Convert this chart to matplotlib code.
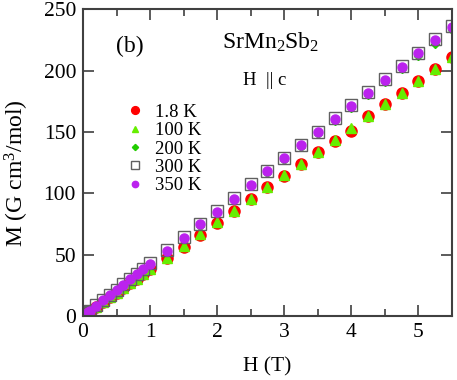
import numpy as np
import matplotlib
matplotlib.use('Agg')
import matplotlib.pyplot as plt
from matplotlib.ticker import MultipleLocator

plt.rcParams['font.family'] = ['Liberation Serif', 'DejaVu Serif']
plt.rcParams['mathtext.fontset'] = 'custom'
plt.rcParams['mathtext.rm'] = 'Liberation Serif'
plt.rcParams['mathtext.it'] = 'Liberation Serif:italic'

# field (T)
H = [0, 0.01, 0.02, 0.03, 0.05, 0.07, 0.1, 0.2, 0.3, 0.4, 0.5, 0.6, 0.7, 0.8, 0.9, 1.0,
     1.25, 1.5, 1.75, 2.0, 2.25, 2.5, 2.75, 3.0, 3.25, 3.5, 3.75, 4.0,
     4.25, 4.5, 4.75, 5.0, 5.25, 5.5]

# magnetization (G cm^3/mol)
M_1p8K = [0, 0.4, 0.8, 1.1, 1.9, 2.7, 3.8, 7.6, 11.4, 15.2, 19.0, 22.8, 26.6, 30.4, 34.2, 38.0,
          47.2, 56.6, 66.2, 75.7, 85.6, 95.3, 104.8, 114.3, 123.8, 133.4, 143.0, 150.8,
          162.6, 172.4, 181.8, 191.4, 201.0, 210.8]
M_100K = [0, 0.4, 0.8, 1.1, 1.9, 2.7, 3.8, 7.7, 11.5, 15.3, 19.1, 22.9, 26.7, 30.5, 34.3, 38.2,
          47.6, 57.1, 66.7, 76.3, 85.9, 95.6, 105.1, 114.6, 124.1, 133.7, 143.3, 153.0,
          162.8, 172.6, 182.0, 191.7, 201.3, 211.0]
M_200K = [0, 0.4, 0.8, 1.3, 2.1, 3.0, 4.2, 8.5, 12.7, 16.9, 21.1, 25.3, 29.6, 33.8, 38.0, 42.0,
          52.5, 63.2, 73.7, 84.0, 94.6, 105.8, 116.5, 126.9, 137.6, 148.1, 158.6, 169.2,
          179.7, 190.3, 200.9, 211.5, 222.0, 232.6]
M_300K = [0, 0.4, 0.9, 1.3, 2.2, 3.0, 4.3, 8.7, 13.0, 17.3, 21.6, 25.9, 30.2, 34.5, 38.8, 43.0,
          53.6, 64.3, 75.0, 85.6, 96.3, 107.5, 118.3, 128.9, 139.6, 150.3, 161.0, 171.7,
          182.4, 193.1, 203.8, 214.6, 225.4, 236.0]
M_350K = [0, 0.4, 0.9, 1.3, 2.1, 3.0, 4.3, 8.6, 12.9, 17.1, 21.4, 25.7, 30.0, 34.2, 38.5, 42.5,
          53.2, 64.0, 74.7, 85.2, 95.8, 107.2, 118.0, 128.4, 139.1, 149.8, 160.5, 171.4,
          182.0, 192.6, 203.2, 214.2, 224.9, 235.6]

fig = plt.figure(figsize=(4.57, 3.80), dpi=100)
ax = fig.add_axes([0.1816, 0.168, 0.8074, 0.808])

ax.plot(H, M_1p8K, 'o', color='#ff0000', ms=8, mec='#ff0000', label='1.8 K')
ax.plot(H, M_100K, '^', color='#66ee00', ms=6.5, mec='#66ee00', label='100 K')
ax.plot(H, M_200K, 'D', color='#22cc00', ms=4.5, mec='#22cc00', label='200 K')
ax.plot(H, M_300K, 's', mfc='none', mec='#606060', mew=1.0, ms=8, label='300 K')
ax.plot(H, M_350K, 'o', color='#bb22ee', ms=6.5, mec='#bb22ee', label='350 K')

ax.set_xlim(0, 5.5)
ax.set_ylim(0, 250)
ax.xaxis.set_major_locator(MultipleLocator(1))
ax.xaxis.set_minor_locator(MultipleLocator(0.5))
ax.yaxis.set_major_locator(MultipleLocator(50))
ax.tick_params(which='both', direction='in', top=True, right=True,
               labelsize=15.5, color='#404040')
ax.tick_params(which='major', length=8, width=1.2, pad=5)
ax.tick_params(which='minor', length=5, width=1.2)
for s in ax.spines.values():
    s.set_color('#404040')
    s.set_linewidth(1.5)

ax.set_xlabel('H (T)', fontsize=15.5, labelpad=11)
ax.set_ylabel('M (G cm$^3$/mol)', fontsize=17)
ax.yaxis.set_label_coords(-0.14, 0.466)

ax.text(0.127, 0.879, '(b)', transform=ax.transAxes, fontsize=17,
        ha='center', va='center')
ax.text(0.509, 0.872, 'SrMn$_2$Sb$_2$', transform=ax.transAxes, fontsize=17,
        ha='center', va='baseline')
ax.text(0.492, 0.752, 'H  || c', transform=ax.transAxes, fontsize=13.5,
        ha='center', va='baseline')

ax.legend(loc='upper left', bbox_to_anchor=(0.08, 0.735), frameon=False,
          numpoints=1, fontsize=13.5, handlelength=1.0, handletextpad=0.55,
          labelspacing=0.07, borderpad=0.2, markerscale=0.7)

fig.savefig('out.png', dpi=100)
